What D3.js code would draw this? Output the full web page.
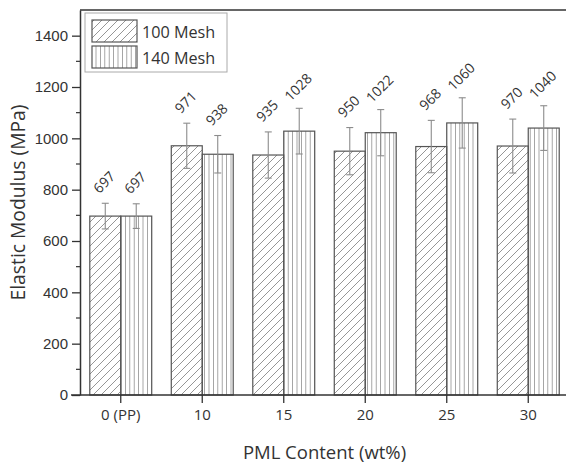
<!DOCTYPE html>
<html>
<head>
<meta charset="utf-8">
<script src="https://cdn.jsdelivr.net/npm/d3@7/dist/d3.min.js"></script>
<style>
  html, body { margin: 0; padding: 0; background: #fff; }
  svg { display: block; }
</style>
</head>
<body>
<svg id="chart" width="566" height="466"></svg>
<script>
// PML content categories (x axis)
const categories = ["0 (PP)", "10", "15", "20", "25", "30"];
const series = ["100 Mesh", "140 Mesh"];

// Elastic modulus (MPa) and standard deviation per series
const mesh100 = [697, 971, 935, 950, 968, 970];
const mesh100Err = [50, 88, 90, 92, 102, 105];
const mesh140 = [697, 938, 1028, 1022, 1060, 1040];
const mesh140Err = [48, 73, 89, 90, 98, 87];

const yTicks = [0, 200, 400, 600, 800, 1000, 1200, 1400];

const values = [mesh100, mesh140];
const errors = [mesh100Err, mesh140Err];

const textFont = "'Open Sans', Lato, sans-serif";
const svg = d3.select("#chart");
const margin = { left: 80, top: 10, right: -3, bottom: 71 };
const W = 566, H = 466;
const x0 = margin.left, x1 = W - margin.right;
const yTop = margin.top, yBot = H - margin.bottom;

const x = d3.scaleBand().domain(categories).range([x0, x1])
  .paddingInner(0.24).paddingOuter(0.12);
const xs = d3.scaleBand().domain(series).range([0, x.bandwidth()]);
const y = d3.scaleLinear().domain([0, 1500]).range([yBot, yTop]);

// hatch patterns
const defs = svg.append("defs");
const diag = defs.append("pattern").attr("id", "hatchDiag")
  .attr("patternUnits", "userSpaceOnUse").attr("width", 8).attr("height", 8);
diag.append("path").attr("d", "M-2,2 L2,-2 M0,8 L8,0 M6,10 L10,6")
  .attr("stroke", "#8a8a8a").attr("stroke-width", 0.9);
const vert = defs.append("pattern").attr("id", "hatchVert")
  .attr("patternUnits", "userSpaceOnUse").attr("width", 4.4).attr("height", 10);
vert.append("line").attr("x1", 2.2).attr("x2", 2.2).attr("y1", 0).attr("y2", 10)
  .attr("stroke", "#9a9a9a").attr("stroke-width", 0.9);
const fills = ["url(#hatchDiag)", "url(#hatchVert)"];

// bars
const rows = [];
series.forEach((s, si) => {
  categories.forEach((c, ci) => {
    rows.push({ s, si, c, v: values[si][ci], e: errors[si][ci] });
  });
});

const g = svg.append("g");
g.selectAll("rect.bar").data(rows).join("rect")
  .attr("class", "bar")
  .attr("x", d => x(d.c) + xs(d.s))
  .attr("y", d => y(d.v))
  .attr("width", xs.bandwidth())
  .attr("height", d => y(0) - y(d.v))
  .attr("fill", d => fills[d.si])
  .attr("stroke", "#555")
  .attr("stroke-width", 1.2);

// error bars
const cx = d => x(d.c) + xs(d.s) + xs.bandwidth() / 2;
const eg = g.selectAll("g.err").data(rows).join("g").attr("class", "err")
  .attr("stroke", "#8c8c8c").attr("stroke-width", 1.1);
eg.append("line").attr("x1", cx).attr("x2", cx)
  .attr("y1", d => y(d.v + d.e)).attr("y2", d => y(d.v - d.e));
eg.append("line").attr("x1", d => cx(d) - 3.5).attr("x2", d => cx(d) + 3.5)
  .attr("y1", d => y(d.v + d.e)).attr("y2", d => y(d.v + d.e));
eg.append("line").attr("x1", d => cx(d) - 3.5).attr("x2", d => cx(d) + 3.5)
  .attr("y1", d => y(d.v - d.e)).attr("y2", d => y(d.v - d.e));

// value labels
g.selectAll("text.val").data(rows).join("text")
  .attr("class", "val")
  .attr("transform", d => `translate(${cx(d) - 1},${y(d.v + d.e) - 21}) rotate(-45)`)
  .attr("text-anchor", "middle")
  .attr("dy", "0.35em")
  .attr("font-family", textFont)
  .attr("font-size", 14)
  .attr("fill", "#333")
  .text(d => d.v);

// frame (top edge)
svg.append("line").attr("x1", x0).attr("x2", x1 + 10).attr("y1", yTop).attr("y2", yTop)
  .attr("stroke", "#333").attr("stroke-width", 1.5);

// y axis
const yAxis = svg.append("g").attr("transform", `translate(${x0},0)`)
  .call(d3.axisLeft(y).tickValues(yTicks).tickFormat(d3.format("d"))
    .tickSize(8).tickPadding(4).tickSizeOuter(0));
yAxis.select(".domain").attr("stroke", "#333").attr("stroke-width", 1.5);
yAxis.selectAll(".tick line").attr("stroke", "#333").attr("stroke-width", 1.3);
yAxis.selectAll(".tick text").attr("font-family", "'Liberation Sans', Arial, sans-serif")
  .attr("font-size", 15).attr("fill", "#333");
// minor ticks
const minor = d3.range(100, 1500, 200);
svg.append("g").selectAll("line").data(minor).join("line")
  .attr("x1", x0 - 4).attr("x2", x0).attr("y1", d => y(d)).attr("y2", d => y(d))
  .attr("stroke", "#333").attr("stroke-width", 1.2);

// x axis
const xAxis = svg.append("g").attr("transform", `translate(0,${yBot})`)
  .call(d3.axisBottom(x).tickSize(8).tickPadding(6).tickSizeOuter(0));
xAxis.select(".domain").attr("stroke", "#333").attr("stroke-width", 1.5)
  .attr("d", `M${x0 - 9},0H${x1 + 10}`);
xAxis.selectAll(".tick line").attr("stroke", "#333").attr("stroke-width", 1.3);
xAxis.selectAll(".tick text").attr("font-family", textFont)
  .attr("font-size", 15).attr("fill", "#333");

// axis titles
svg.append("text").attr("x", (x0 + x1) / 2).attr("y", 459)
  .attr("text-anchor", "middle")
  .attr("font-family", textFont)
  .attr("font-size", 18.5).attr("fill", "#333")
  .text("PML Content (wt%)");
svg.append("text")
  .attr("transform", `translate(25,${(yTop + yBot) / 2}) rotate(-90)`)
  .attr("text-anchor", "middle")
  .attr("font-family", textFont)
  .attr("font-size", 19.3).attr("fill", "#333")
  .text("Elastic Modulus (MPa)");

// legend
const lg = svg.append("g").attr("transform", "translate(85,13)");
lg.append("rect").attr("width", 142).attr("height", 59)
  .attr("fill", "#fff").attr("stroke", "#aaa").attr("stroke-width", 1);
series.forEach((s, i) => {
  lg.append("rect").attr("x", 7).attr("y", 7 + i * 26).attr("width", 45).attr("height", 22)
    .attr("fill", fills[i]).attr("stroke", "#555").attr("stroke-width", 1.2);
  lg.append("text").attr("x", 57).attr("y", 25 + i * 25.5)
    .attr("font-family", textFont)
    .attr("font-size", 16.2).attr("fill", "#333")
    .text(s);
});
</script>
</body>
</html>
